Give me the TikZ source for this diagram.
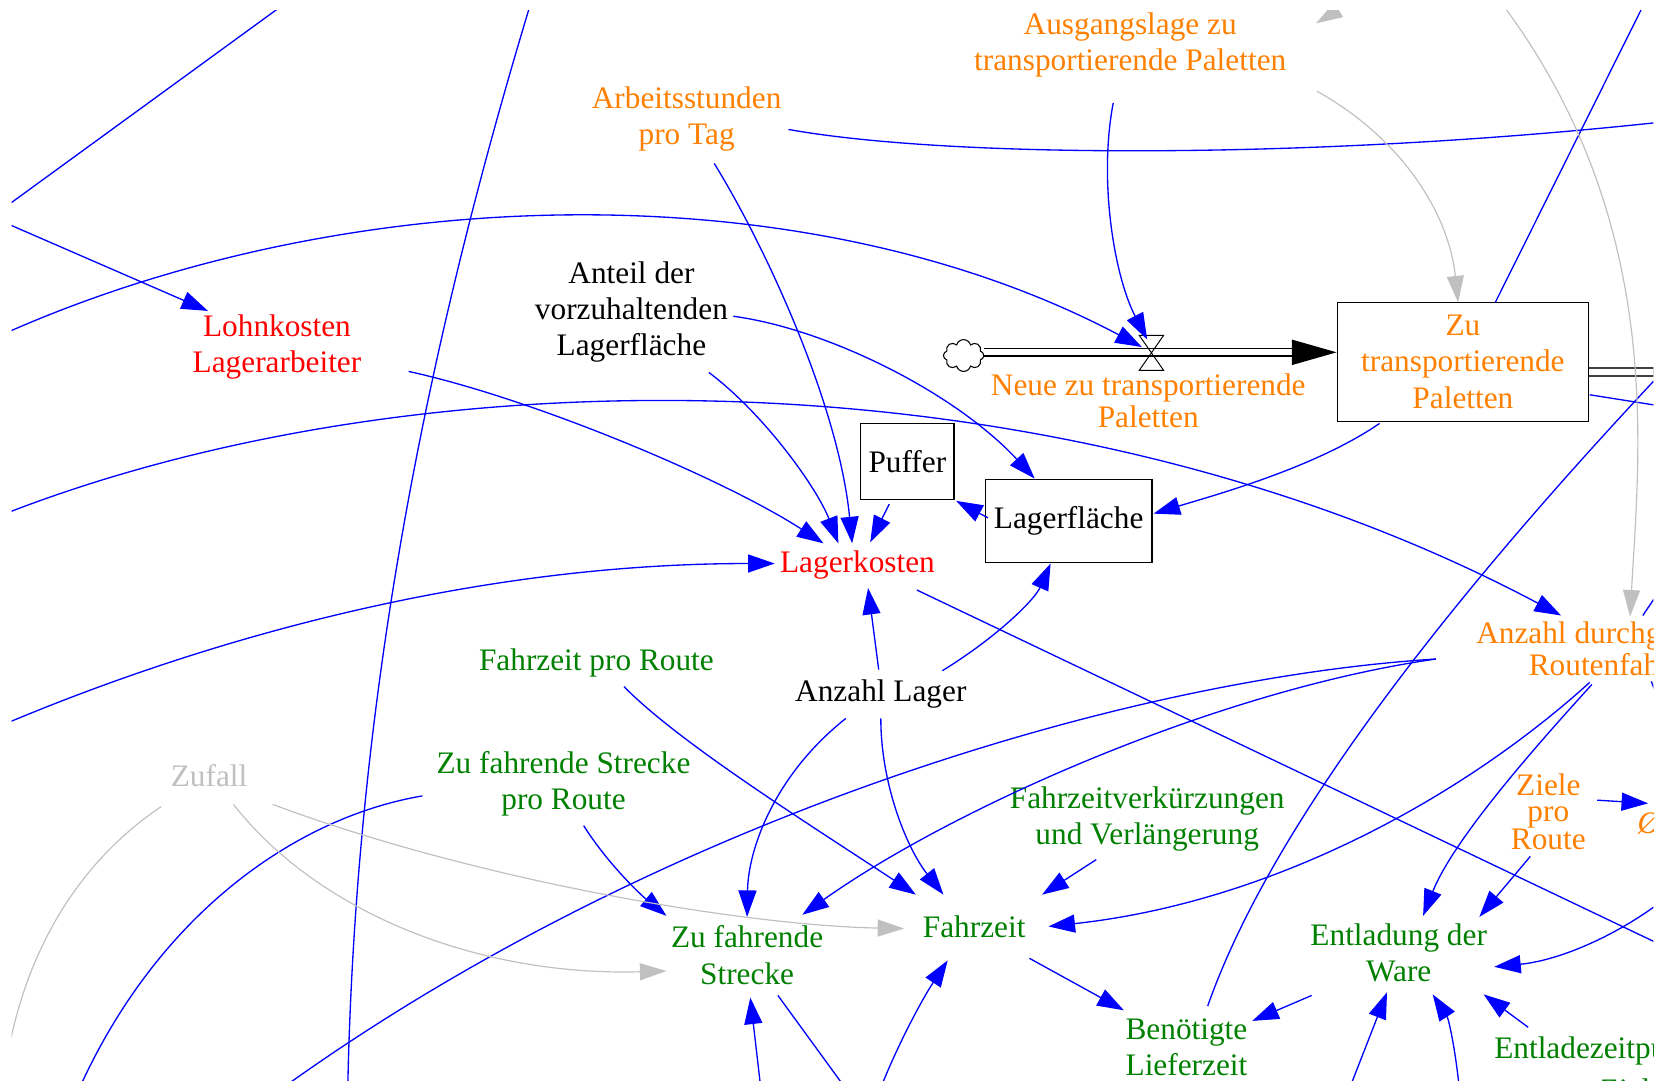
\documentclass[tikz,border=0pt]{standalone}
\usepackage{fontspec}
\setmainfont{Liberation Serif}
\usetikzlibrary{arrows.meta,calc,shapes.symbols}
\definecolor{vblue}{RGB}{0,0,255}
\definecolor{vgray}{RGB}{192,192,192}
\definecolor{vorange}{RGB}{255,128,0}
\definecolor{vgreen}{RGB}{0,128,0}
\definecolor{vred}{RGB}{255,0,0}
\newcommand{\dgfont}{\fontsize{29.5}{34}\selectfont}
\begin{document}
\begin{tikzpicture}[x=1pt,y=-1pt,
  lbl/.style={font=\dgfont, align=center, inner sep=0pt},
  stock/.style={draw=black, line width=1.2pt, fill=white, inner sep=0pt, font=\dgfont, align=center},
  link/.style={draw=vblue, line width=1.25pt, -{Triangle[length=25pt,width=17pt]}},
  plain/.style={draw=vblue, line width=1.25pt},
  glink/.style={draw=vgray, line width=1.1pt, -{Triangle[length=25pt,width=16pt]}},
  gplain/.style={draw=vgray, line width=1.1pt},
  pipe/.style={draw=black, line width=1.4pt, double=white, double distance=5.8pt}]
\useasboundingbox (0,0) rectangle (1568,1019);
\fill[white] (0,0) rectangle (1568,1019);
\begin{scope}
\clip (11,10) rectangle (1558,1018);

% free ends of links that leave the sheet
\coordinate (o1a) at (-2,200.2);
\coordinate (o1b) at (272,0.8);
\coordinate (o2) at (-8,204.3);
\coordinate (o3) at (5,314);
\coordinate (o4) at (5,484);
\coordinate (o5) at (5,682);
\coordinate (o6a) at (501,0);
\coordinate (o6b) at (327.6,1030);
\coordinate (o8) at (1575,114);
\coordinate (o18) at (1600,907);
\coordinate (o23) at (250,1037);
\coordinate (o28) at (1580,838);
\coordinate (o32) at (1580,336);
\coordinate (o33) at (1552,-2);
\coordinate (o34) at (1580,385);
\coordinate (o35) at (1590,350.5);
\coordinate (og2) at (1405,-10);
\coordinate (og3) at (1310,-20);
\coordinate (og6) at (8,990);
\coordinate (ob1) at (718,1035);
\coordinate (ob2) at (800,1030);
\coordinate (ob3) at (826,1035);
\coordinate (ob4) at (1268,1035);
\coordinate (ob5) at (1376,1035);
\coordinate (ob7) at (75,1025);
\coordinate (os1) at (1575,540);
\coordinate (os2) at (1566,668);

% stocks, source and valve
\node[cloud, draw=black, line width=1pt, cloud puffs=8, aspect=1.3,
      minimum width=38pt, minimum height=30pt, inner sep=0pt] (cloud) at (908,335) {};
\node[stock, minimum width=237pt, minimum height=112pt, text=vorange] (zu) at (1378.5,341) {Zu\\transportierende\\Paletten};
\node[stock, minimum width=88pt, minimum height=72pt] (puf) at (855,435) {Puffer};
\node[stock, minimum width=157pt, minimum height=78pt] (lfl) at (1007,491) {Lagerfläche};
\coordinate (valve) at (1085,332.5);

\draw[pipe] ($(cloud.east)+(0,-3)$) -- ($(zu.west)+(-40,-9)$);
\fill[black] ($(zu.west)+(0,-9)$) -- ++(-42,-12) -- ++(0,24) -- cycle;
\draw[pipe, draw=black!75] ($(zu.east)+(0,9.5)$) -- (o35);
\draw[black, line width=0.9pt] ($(valve)+(-11.5,-16.5)$) -- ($(valve)+(11.5,-16.5)$)
   -- ($(valve)+(-11.5,16.5)$) -- ($(valve)+(11.5,16.5)$) -- cycle;

% variables
\node[lbl, text=vorange] (ausg) at (1065,42) {Ausgangslage zu\\transportierende Paletten};
\node[lbl, text=vorange] (arb) at (647,112) {Arbeitsstunden\\pro Tag};
\node[lbl] (ant) at (595,294) {Anteil der\\vorzuhaltenden\\Lagerfläche};
\node[lbl, text=vred] (lohn) at (261,327) {Lohnkosten\\Lagerarbeiter};
\node[lbl, text=vorange, font=\fontsize{29.5}{30}\selectfont] (neue) at (1082,378) {Neue zu transportierende\\Paletten};
\node[lbl, text=vred] (lk) at (808,532) {Lagerkosten};
\node[lbl, text=vgreen] (fpr) at (562,625) {Fahrzeit pro Route};
\node[lbl] (al) at (830,654) {Anzahl Lager};
\node[lbl, text=vorange, font=\fontsize{29.5}{30}\selectfont] (adr) at (1525,611) {Anzahl durchgeführter\\Routenfahrten};
\node[lbl, text=vorange, font=\fontsize{29.5}{24.5}\selectfont] (ziele) at (1459,765) {Ziele\\pro\\Route};
\node[lbl, text=vorange, anchor=west] (dz) at (1543,776) {\itshape Ø};
\node[lbl, text=vgray] (zuf) at (197,731) {Zufall};
\node[lbl, text=vgreen] (zfspr) at (531,739) {Zu fahrende Strecke\\pro Route};
\node[lbl, text=vgreen] (fvk) at (1081,772) {Fahrzeitverkürzungen\\und Verlängerung};
\node[lbl, text=vgreen] (zfs) at (704,900) {Zu fahrende\\Strecke};
\node[lbl, text=vgreen] (fz) at (918,873) {Fahrzeit};
\node[lbl, text=vgreen] (edw) at (1318,898) {Entladung der\\Ware};
\node[lbl, text=vgreen] (bl) at (1118,987) {Benötigte\\Lieferzeit};
\node[lbl, text=vgreen, font=\fontsize{29.5}{39}\selectfont] (ezp) at (1508,1010) {Entladezeitpunkt\\pro Ziel};

% blue causal links
\draw[plain] (o1a) -- (o1b);
\draw[link] (o2) -- ($(lohn)+(-65,-34)$);
\draw[link] (o3) .. controls (330,170) and (760,160) .. ($(valve)+(-9,-5.5)$);
\draw[link] (o4) .. controls (400,330) and (1000,330) .. ($(adr)+(-54,-31)$);
\draw[link] (o5) .. controls (200,600) and (450,531) .. ($(lk)+(-78,-1)$);
\draw[plain] (o6a) .. controls (410,300) and (335,640) .. (o6b);
\draw[link] ($(arb)+(26,42)$) .. controls (720,230) and (790,380) .. ($(lk)+(-5,-20)$);
\draw[plain] ($(arb)+(96,10)$) .. controls (900,150) and (1250,150) .. (o8);
\draw[link] ($(ausg)+(-16,55)$) .. controls (1035,170) and (1050,260) .. ($(valve)+(-4,-12.5)$);
\draw[link] ($(ant)+(96,4)$) .. controls (780,310) and (900,370) .. ($(lfl)+(-32,-40)$);
\draw[link] ($(ant)+(73,57)$) .. controls (720,390) and (770,460) .. ($(lk)+(-18,-20)$);
\draw[link] ($(lohn)+(124,23)$) .. controls (500,375) and (680,450) .. ($(lk)+(-32,-20)$);
\draw[link] ($(puf)+(-17,40)$) -- ($(lk)+(12,-21)$);
\draw[link] ($(lfl)+(-76,-3)$) -- ($(puf)+(46,37)$);
\draw[link] ($(zu)+(-78.5,58)$) .. controls (1240,440) and (1150,465) .. ($(lfl)+(80,-7)$);
\draw[link] ($(al)+(58,-22)$) .. controls (940,600) and (975,565) .. ($(lfl)+(-17,40)$);
\draw[link] ($(al)+(-2,-23)$) -- ($(lk)+(10,22)$);
\draw[plain] ($(lk)+(56,24)$) -- (o18);
\draw[link] ($(fpr)+(26,22)$) .. controls (640,700) and (760,775) .. ($(fz)+(-55,-30)$);
\draw[link] ($(al)+(-33,23)$) .. controls (730,730) and (705,800) .. ($(zfs)+(0,-36)$);
\draw[link] ($(al)+(0,23)$) .. controls (830,740) and (855,800) .. ($(fz)+(-29,-30)$);
\draw[link] ($(zfspr)+(19,39)$) .. controls (570,810) and (600,840) .. ($(zfs)+(-76,-37)$);
\draw[plain] ($(adr)+(-172,10)$) .. controls (1050,640) and (600,780) .. (o23);
\draw[link] ($(adr)+(-172,10)$) .. controls (1150,650) and (900,760) .. ($(zfs)+(52,-38)$);
\draw[link] ($(adr)+(-27,32)$) .. controls (1380,750) and (1200,850) .. ($(fz)+(70,0)$);
\draw[link] ($(adr)+(-25,34)$) .. controls (1450,700) and (1370,790) .. ($(edw)+(23,-35)$);
\draw[link] ($(ziele)+(-17,42)$) -- ($(edw)+(76,-34)$);
\draw[link] ($(ziele)+(46,-11)$) -- ($(dz.west)+(10,-19)$);
\draw[link] (o28) .. controls (1530,880) and (1470,905) .. ($(edw)+(90,13)$);
\draw[link] ($(edw)+(-82,40)$) -- ($(bl)+(62,-25)$);
\draw[link] ($(fz)+(52,30)$) -- ($(bl)+(-59,-35)$);
\draw[link] ($(fvk)+(-48,38)$) -- ($(fz)+(64,-30)$);
\draw[plain] ($(bl)+(20,-39)$) .. controls (1190,800) and (1330,600) .. (o32);
\draw[plain] ($(zu)+(30.5,-56)$) -- (o33);
\draw[plain] ($(zu)+(119.5,31)$) -- (o34);
\draw[link] (ob1) -- ($(zfs)+(3,40)$);
\draw[plain] ($(zfs)+(29,38)$) -- (ob2);
\draw[link] (ob3) .. controls (845,985) and (870,940) .. ($(fz)+(-25,32)$);
\draw[link] (ob4) -- ($(edw)+(-11,37)$);
\draw[link] (ob5) .. controls (1372,990) and (1365,960) .. ($(edw)+(32,39)$);
\draw[link] ($(ezp)+(-68,-42)$) -- ($(edw)+(80,39)$);
\draw[plain] ($(zfspr)+(-133,11)$) .. controls (280,770) and (150,860) .. (ob7);
\draw[plain] ($(adr)+(23,-31)$) -- (os1);
\draw[plain] ($(adr)+(31,31)$) -- (os2);

% grey links
\draw[glink] ($(ausg)+(176,44)$) .. controls (1320,130) and (1365,200) .. ($(zu)+(-4.5,-56)$);
\draw[glink] (og2) .. controls (1570,200) and (1545,420) .. ($(adr)+(11,-30)$);
\draw[glink] (og3) -- ($(ausg)+(175,-20)$);
\draw[glink] ($(zuf)+(60,27)$) .. controls (450,830) and (700,872) .. ($(fz)+(-66,2)$);
\draw[glink] ($(zuf)+(23,27)$) .. controls (300,860) and (450,920) .. ($(zfs)+(-76,15)$);
\draw[gplain] ($(zuf)+(-45,29)$) .. controls (70,815) and (25,900) .. (og6);
\end{scope}
\end{tikzpicture}
\end{document}
